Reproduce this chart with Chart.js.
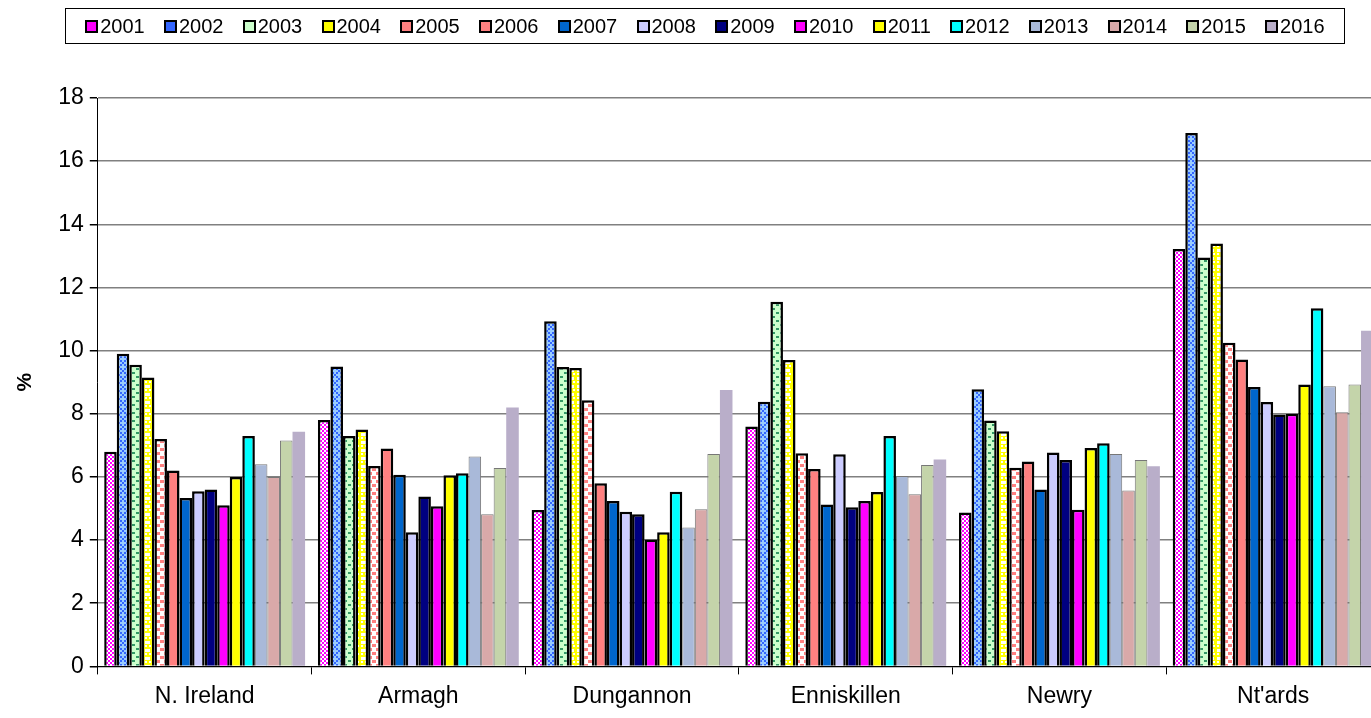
<!DOCTYPE html>
<html>
<head>
<meta charset="utf-8">
<script src="https://cdn.jsdelivr.net/npm/chart.js@4.4.0/dist/chart.umd.min.js"></script>
<style>
  body { margin:0; background:#fff; overflow:hidden; font-family:"Liberation Sans", Arial, sans-serif; }
  #wrap { position:absolute; left:0; top:0; width:1380px; height:718px; }
  #legend { position:absolute; left:65px; top:8px; width:1278px; height:34px; border:1px solid #000;
            display:flex; align-items:center; justify-content:space-evenly; font-size:20px; }
  #legend span { display:flex; align-items:center; }
  #legend i { display:inline-block; width:9px; height:9px; border:2px solid #000; margin-right:2px; }
</style>
</head>
<body>
<div id="wrap"><canvas id="c"></canvas></div>
<div id="legend"></div>
<script>
const places = ["N. Ireland", "Armagh", "Dungannon", "Enniskillen", "Newry", "Nt'ards"];
const years = ["2001","2002","2003","2004","2005","2006","2007","2008","2009","2010","2011","2012","2013","2014","2015","2016"];
const y2001 = [6.8, 7.8, 4.95, 7.6, 4.87, 13.22];
const y2002 = [9.9, 9.5, 10.93, 8.38, 8.78, 16.89];
const y2003 = [9.55, 7.3, 9.48, 11.55, 7.79, 12.95];
const y2004 = [9.15, 7.5, 9.45, 9.7, 7.45, 13.39];
const y2005 = [7.2, 6.35, 8.43, 6.75, 6.29, 10.25];
const y2006 = [6.2, 6.9, 5.8, 6.25, 6.49, 9.72];
const y2007 = [5.33, 6.07, 5.24, 5.13, 5.6, 8.85];
const y2008 = [5.55, 4.25, 4.9, 6.72, 6.77, 8.37];
const y2009 = [5.6, 5.38, 4.82, 5.04, 6.54, 7.98];
const y2010 = [5.1, 5.07, 4.02, 5.24, 4.96, 8.0];
const y2011 = [6.0, 6.05, 4.25, 5.52, 6.92, 8.93];
const y2012 = [7.3, 6.12, 5.53, 7.3, 7.07, 11.34];
const y2013 = [6.4, 6.65, 4.4, 6.03, 6.73, 8.87];
const y2014 = [6.0, 4.82, 4.98, 5.45, 5.57, 8.05];
const y2015 = [7.15, 6.28, 6.73, 6.38, 6.54, 8.93];
const y2016 = [7.43, 8.2, 8.75, 6.55, 6.34, 10.63];
const yTicks = [0,2,4,6,8,10,12,14,16,18];

function pat(bg, fg, draw) {
  const c = document.createElement('canvas'); c.width = 8; c.height = 8;
  const g = c.getContext('2d');
  g.fillStyle = bg; g.fillRect(0,0,8,8);
  g.fillStyle = fg; draw(g);
  return g.createPattern(c, 'repeat');
}
const p2001 = pat('#fff', '#ff00ff', g => { for (let i=0;i<8;i+=2) for (let j=0;j<8;j+=2) if (((i+j)/2)%2==0) g.fillRect(i,j,2,2); g.fillRect(1,1,1,1); });
const p2002 = pat('#99ccff', '#3366ff', g => { g.fillRect(0,0,2,2); g.fillRect(2,2,2,2); g.fillRect(4,4,2,2); g.fillRect(6,6,2,2); g.fillRect(4,0,2,2); g.fillRect(0,4,2,2); });
const p2003 = pat('#ccffcc', '#339966', g => { g.fillRect(0,0,3,2); g.fillRect(4,4,3,2); });
const p2004 = pat('#ffff00', '#ffffff', g => { g.fillRect(1,1,5,3); g.fillRect(1,5,2,2); g.fillRect(5,5,2,2); });
const p2005 = pat('#ffffff', '#ff8080', g => { g.fillRect(0,0,4,3); g.fillRect(4,4,4,3); });

const fills = [p2001,p2002,p2003,p2004,p2005,'#ff8080','#0066cc','#ccccff','#000080','#ff00ff','#ffff00','#00ffff','#a9b9d9','#d9a9a9','#c4d4aa','#b9aec9'];
const legendCols = ['#ff00ff','#3366ff','#ccffcc','#ffff00','#ff8080','#ff8080','#0066cc','#ccccff','#000080','#ff00ff','#ffff00','#00ffff','#a9b9d9','#d9a9a9','#c4d4aa','#b9aec9'];
const series = [y2001,y2002,y2003,y2004,y2005,y2006,y2007,y2008,y2009,y2010,y2011,y2012,y2013,y2014,y2015,y2016];

const datasets = series.map((d, i) => ({
  label: years[i],
  data: d,
  backgroundColor: fills[i],
  borderColor: i >= 12 ? '#777' : '#000',
  borderWidth: i === 15 ? 0 : (i >= 12 ? 1 : 2.5),
  categoryPercentage: 0.94,
  barPercentage: 1.0
}));

const lg = document.getElementById('legend');
years.forEach((y, i) => {
  const s = document.createElement('span');
  s.innerHTML = '<i style="background:' + legendCols[i] + '"></i>' + y;
  lg.appendChild(s);
});

new Chart(document.getElementById('c'), {
  type: 'bar',
  data: { labels: places, datasets: datasets },
  options: {
    responsive: true,
    maintainAspectRatio: false,
    animation: false,
    layout: { padding: { top: 98, left: 13, right: 0, bottom: 0 } },
    plugins: { legend: { display: false }, tooltip: { enabled: false } },
    scales: {
      x: {
        grid: { display: true, drawOnChartArea: false, offset: true, color: '#000', tickLength: 8 },
        border: { color: '#000', width: 1 },
        ticks: { color: '#000', font: { family: 'Liberation Sans', size: 23 }, padding: 8 }
      },
      y: {
        min: 0, max: 18,
        afterBuildTicks: ax => { ax.ticks = yTicks.map(v => ({ value: v })); },
        grid: { color: '#808080', tickLength: 8, tickColor: '#000', lineWidth: 1.5 },
        border: { color: '#000', width: 1 },
        title: { display: true, text: '%', color: '#000', font: { family: 'Liberation Sans', size: 21, weight: 'bold' }, padding: { top: 0, bottom: 14 } },
        ticks: { color: '#000', font: { family: 'Liberation Sans', size: 23 }, padding: 6 }
      }
    }
  }
});
</script>
</body>
</html>
